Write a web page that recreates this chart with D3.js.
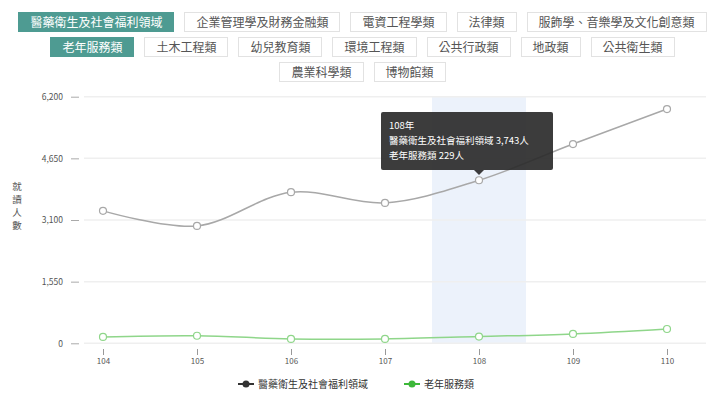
<!DOCTYPE html>
<html lang="zh-Hant">
<head>
<meta charset="utf-8">
<title>就讀人數</title>
<script src="https://d3js.org/d3.v7.min.js"></script>
<style>
  body { margin: 0; background: #fff; font-family: "Noto Sans CJK TC", "Noto Sans", sans-serif; }
  #wrap { position: relative; width: 713px; height: 394px; overflow: hidden; }
  #btns { position: absolute; left: 0; top: 12px; width: 713px; padding-left: 12px; box-sizing: border-box; }
  .row { display: flex; justify-content: center; gap: 10px; margin-bottom: 5px; }
  .btn {
    height: 20px; line-height: 18px; box-sizing: border-box;
    padding: 0 11px; border: 1px solid #e2e2e2; background: #fff;
    font-size: 12px; color: #555; white-space: nowrap;
  }
  .btn.on { background: #4e9b92; border-color: #4e9b92; color: #fff; }
  svg { position: absolute; left: 0; top: 0; }
</style>
</head>
<body>
<div id="wrap">
  <svg id="chart" width="713" height="394"></svg>
  <div id="btns"></div>
</div>
<script>
// category filter buttons (rows of 5, 7, 2)
var buttons = ["醫藥衛生及社會福利領域", "企業管理學及財務金融類", "電資工程學類", "法律類", "服飾學、音樂學及文化創意類",
  "老年服務類", "土木工程類", "幼兒教育類", "環境工程類", "公共行政類", "地政類", "公共衛生類",
  "農業科學類", "博物館類"];
var rowSizes = [5, 7, 2];
var active = ["醫藥衛生及社會福利領域", "老年服務類"];

var years = ["104", "105", "106", "107", "108", "109", "110"];
var welfare = [3330, 2950, 3800, 3530, 4100, 5010, 5890];
var elderly = [160, 190, 110, 110, 170, 235, 360];
var yTicks = [0, 1550, 3100, 4650, 6200];
var seriesNames = ["醫藥衛生及社會福利領域", "老年服務類"];
var tipYear = "108";
var tipLines = ["108年", "醫藥衛生及社會福利領域 3,743人", "老年服務類 229人"];

// buttons
var start = 0;
rowSizes.forEach(function(n) {
  var row = d3.select("#btns").append("div").attr("class", "row");
  buttons.slice(start, start + n).forEach(function(b) {
    row.append("div").attr("class", active.indexOf(b) >= 0 ? "btn on" : "btn").text(b);
  });
  start += n;
});

var svg = d3.select("#chart");
var font = '"Noto Sans CJK TC", "Noto Sans", sans-serif';

var x = d3.scalePoint().domain(years).range([103, 667]);
var y = d3.scaleLinear().domain([0, 6200]).range([343.3, 96.7]);
var step = x.step();

// hover band
svg.append("rect")
  .attr("x", x(tipYear) - step / 2)
  .attr("y", y(6200))
  .attr("width", step)
  .attr("height", y(0) - y(6200))
  .attr("fill", "#ecf2fb");

// grid
svg.append("g").selectAll("line")
  .data(yTicks)
  .enter().append("line")
  .attr("x1", 84).attr("x2", 706)
  .attr("y1", d => y(d)).attr("y2", d => y(d))
  .attr("stroke", "#efefef")
  .attr("stroke-width", 1.5);

// y axis
var yAxis = svg.append("g")
  .attr("transform", "translate(79,0)")
  .call(d3.axisLeft(y).tickValues(yTicks).tickSize(8).tickPadding(8).tickFormat(d3.format(",")));
yAxis.select(".domain").remove();
yAxis.selectAll(".tick line").attr("stroke", "#aaa");
yAxis.selectAll(".tick text").attr("fill", "#555").attr("font-family", font).style("font-size", "8.5px");

// x axis
var xAxis = svg.append("g")
  .attr("transform", "translate(0,349)")
  .call(d3.axisBottom(x).tickSize(6).tickPadding(3));
xAxis.select(".domain").remove();
xAxis.selectAll(".tick line").attr("stroke", "#999");
xAxis.selectAll(".tick text").attr("fill", "#555").attr("font-family", font).style("font-size", "8px");

// y axis title, one character per line
svg.append("g").selectAll("text")
  .data("就讀人數".split(""))
  .enter().append("text")
  .attr("x", 17)
  .attr("y", (d, i) => 190 + i * 13)
  .attr("text-anchor", "middle")
  .attr("font-family", font)
  .attr("font-size", 9.5)
  .attr("fill", "#555")
  .text(d => d);

// lines
var line = d3.line()
  .x((d, i) => x(years[i]))
  .y(d => y(d))
  .curve(d3.curveCatmullRom);

var series = [
  { values: welfare, color: "#a8a8a8", legend: "#333" },
  { values: elderly, color: "#8fd68a", legend: "#3db83a" }
];

series.forEach(function(s) {
  svg.append("path")
    .datum(s.values)
    .attr("d", line)
    .attr("fill", "none")
    .attr("stroke", s.color)
    .attr("stroke-width", 1.5);
  svg.append("g").selectAll("circle")
    .data(s.values)
    .enter().append("circle")
    .attr("cx", (d, i) => x(years[i]))
    .attr("cy", d => y(d))
    .attr("r", 3.5)
    .attr("fill", "#fff")
    .attr("stroke", s.color)
    .attr("stroke-width", 1.2);
});

// tooltip
var tip = svg.append("g").attr("transform", "translate(381,112)");
tip.append("rect")
  .attr("width", 172).attr("height", 58).attr("rx", 2)
  .attr("fill", "#2b2b2b").attr("opacity", 0.92);
var cx = x(tipYear) - 381;
tip.append("path")
  .attr("d", "M" + (cx - 5) + ",58 L" + cx + ",63 L" + (cx + 5) + ",58 Z")
  .attr("fill", "#2b2b2b").attr("opacity", 0.92);
tip.selectAll("text")
  .data(tipLines)
  .enter().append("text")
  .attr("x", 8)
  .attr("y", (d, i) => 17 + i * 15)
  .attr("font-family", font)
  .attr("font-size", 9.5)
  .attr("fill", "#fff")
  .text(d => d);

// legend
var legend = svg.append("g").attr("transform", "translate(0,384)");
var lx = [246, 412];
seriesNames.forEach(function(name, i) {
  var g = legend.append("g").attr("transform", "translate(" + lx[i] + ",0)");
  g.append("line").attr("x1", -8).attr("x2", 8).attr("y1", 0).attr("y2", 0)
    .attr("stroke", series[i].legend).attr("stroke-width", 2);
  g.append("circle").attr("r", 3.5).attr("fill", series[i].legend);
  g.append("text")
    .attr("x", 12).attr("y", 3.5)
    .attr("font-family", font).attr("font-size", 10)
    .attr("fill", "#333")
    .text(name);
});
</script>
</body>
</html>
